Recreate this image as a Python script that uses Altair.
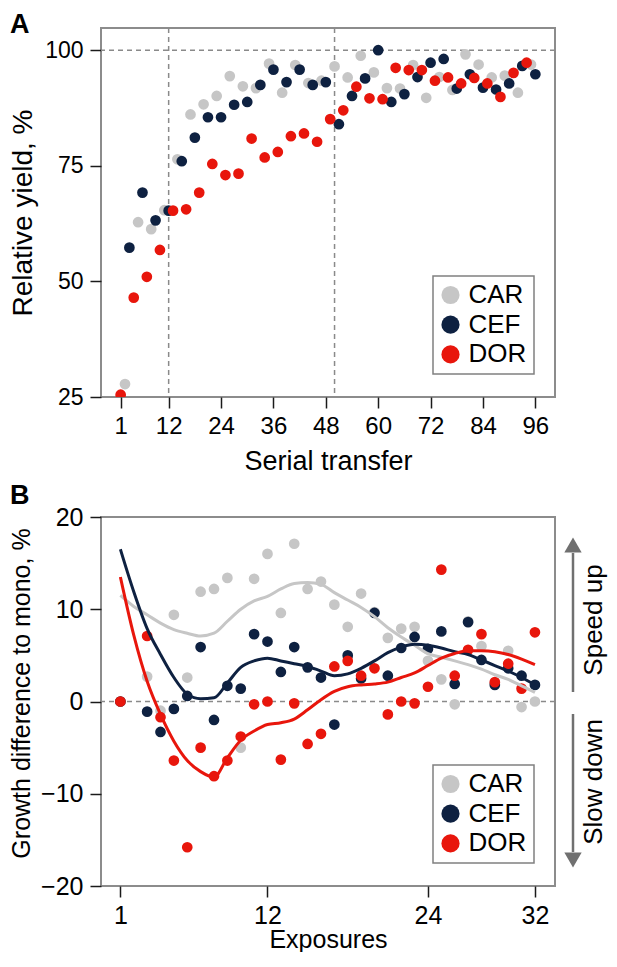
import altair as alt
import pandas as pd

FONT = "Liberation Sans"
series = ["CAR", "CEF", "DOR"]
colors = ["#c6c6c6", "#0e2141", "#e8160c"]

# ---------- Panel A: relative yield per serial transfer ----------
transfer_car = [2, 5, 8, 11, 14, 17, 20, 23, 26, 29, 32, 35, 38, 41, 44, 47,
                50, 53, 56, 59, 62, 65, 68, 71, 74, 77, 80, 83, 86, 89, 92, 95]
transfer_cef = [3, 6, 9, 12, 15, 18, 21, 24, 27, 30, 33, 36, 39, 42, 45, 48,
                51, 54, 57, 60, 63, 66, 69, 72, 75, 78, 81, 84, 87, 90, 93, 96]
transfer_dor = [1, 4, 7, 10, 13, 16, 19, 22, 25, 28, 31, 34, 37, 40, 43, 46,
                49, 52, 55, 58, 61, 64, 67, 70, 73, 76, 79, 82, 85, 88, 91, 94]

yield_car = [27.8, 62.8, 61.3, 65.4, 76.4, 86.1, 88.3, 90.1, 94.4, 92.2, 91.8, 97.1,
             90.8, 96.8, 92.9, 93.4, 96.5, 94.1, 98.8, 95.2, 91.8, 91.7, 96.8, 89.7,
             94.2, 91.4, 99.1, 96.9, 94.1, 94.5, 90.8, 96.9]
yield_cef = [57.3, 69.2, 63.2, 65.3, 76.0, 81.1, 85.5, 85.5, 88.2, 88.8, 92.5, 95.8,
             93.1, 95.8, 92.5, 93.1, 84.0, 90.1, 93.9, 100.0, 88.8, 90.5, 94.2, 97.3,
             98.1, 91.7, 94.8, 91.9, 91.5, 92.8, 96.6, 94.8]
yield_dor = [25.5, 46.5, 51.0, 56.8, 65.3, 65.6, 69.2, 75.4, 73.0, 73.3, 80.9, 76.8,
             78.0, 81.4, 82.0, 80.2, 85.1, 87.0, 92.1, 89.6, 89.4, 96.2, 95.7, 95.7,
             93.4, 94.1, 92.8, 94.0, 92.8, 89.9, 95.1, 97.3]

a_xticks = [1, 12, 24, 36, 48, 60, 72, 84, 96]
a_yticks = [25, 50, 75, 100]
a_vlines = [12, 50]
a_hline = [100]

# ---------- Panel B: growth difference per exposure ----------
exposures = [1, 3, 4, 5, 6, 7, 8, 9, 10, 11, 12, 13, 14, 15, 16, 17, 18, 19, 20,
             21, 22, 23, 24, 25, 26, 27, 28, 29, 30, 31, 32]
growth_car = [0.0, 2.7, -1.0, 9.4, 2.6, 11.9, 12.2, 13.4, -5.0, 13.3, 16.0, 9.6, 17.1,
              12.2, 13.0, 10.5, 8.1, 11.7, 9.7, 6.9, 7.9, 8.1, 4.4, 2.4, -0.3, 8.7,
              6.0, 2.0, 5.5, -0.6, 0.0]
growth_cef = [0.0, -1.1, -3.3, -0.8, 0.6, 5.9, -2.0, 1.7, 1.4, 7.3, 6.5, 3.2, 5.9,
              3.7, 2.6, -2.5, 5.0, 2.5, 9.6, 2.8, 5.8, 7.0, 5.7, 7.6, 1.9, 8.6,
              4.5, 1.8, 3.6, 2.8, 1.8]
growth_dor = [0.0, 7.1, -1.7, -6.4, -15.8, -5.0, -8.1, -6.4, -3.8, -0.3, 0.0, -6.3,
              -0.2, -4.6, -3.5, 3.8, 4.4, 2.8, 3.6, -1.4, 0.0, -0.2, 1.6, 14.3, 2.8,
              5.6, 7.3, 2.1, 4.1, 1.4, 7.5]

fit_x = list(range(1, 33))
fit_car = [11.5, 10.3, 9.4, 8.5, 7.8, 7.4, 7.1, 7.4, 8.7, 10.0, 10.9, 11.4, 12.2,
           12.8, 12.9, 12.7, 11.8, 11.0, 10.2, 9.2, 8.0, 7.0, 6.1, 5.2, 4.8, 4.4,
           4.0, 3.5, 2.9, 2.4, 1.7, 1.0]
fit_cef = [16.5, 11.9, 7.9, 5.1, 2.6, 0.8, 0.3, 0.4, 2.0, 3.7, 4.4, 4.7, 4.4, 4.1,
           3.8, 3.3, 2.8, 3.0, 3.6, 4.4, 5.3, 5.9, 6.2, 6.1, 5.8, 5.4, 5.1, 4.5,
           3.9, 3.3, 2.6, 1.8]
fit_dor = [13.5, 7.2, 2.2, -1.4, -4.3, -6.4, -7.6, -8.2, -6.1, -4.2, -3.2, -2.5,
           -2.3, -1.9, -0.9, 0.2, 1.1, 1.6, 1.8, 1.9, 2.1, 2.6, 3.1, 3.9, 4.7, 5.2,
           5.5, 5.5, 5.4, 5.1, 4.6, 4.0]

b_xticks = [1, 12, 24, 32]
b_yticks = [-20, -10, 0, 10, 20]
b_hline = [0]

# ---------- tables ----------
dfA = pd.concat([
    pd.DataFrame({"series": "CAR", "transfer": transfer_car, "yield": yield_car}),
    pd.DataFrame({"series": "CEF", "transfer": transfer_cef, "yield": yield_cef}),
    pd.DataFrame({"series": "DOR", "transfer": transfer_dor, "yield": yield_dor}),
], ignore_index=True)

dfB = pd.concat([
    pd.DataFrame({"series": "CAR", "exposure": exposures, "growth": growth_car}),
    pd.DataFrame({"series": "CEF", "exposure": exposures, "growth": growth_cef}),
    pd.DataFrame({"series": "DOR", "exposure": exposures, "growth": growth_dor}),
], ignore_index=True)

dfFit = pd.concat([
    pd.DataFrame({"series": "CAR", "exposure": fit_x, "growth": fit_car}),
    pd.DataFrame({"series": "CEF", "exposure": fit_x, "growth": fit_cef}),
    pd.DataFrame({"series": "DOR", "exposure": fit_x, "growth": fit_dor}),
], ignore_index=True)

W, H = 454, 369
DASH = dict(color="#8a8a8a", strokeWidth=1.5, strokeDash=[5, 4])
TICK = dict(tickSize=11, tickWidth=1.5, tickColor="#1a1a1a", domain=False, grid=False,
            labelFont=FONT, titleFont=FONT, labelColor="black", titleColor="black",
            titleFontWeight="normal")
COLOR = alt.Color("series:N", scale=alt.Scale(domain=series, range=colors), legend=None)

# legend drawn inside each panel (box + one row per series)
dfLeg = pd.DataFrame({"series": series, "ly": [267.0, 296.7, 326.4]})


def legend_layers():
    box = alt.Chart(pd.DataFrame({"t": [0]})).mark_rect(
        fill="white", stroke="#808080", strokeWidth=1.5).encode(
        x=alt.value(332), x2=alt.value(433), y=alt.value(248), y2=alt.value(346))
    sym = alt.Chart(dfLeg).mark_circle(size=330, opacity=1).encode(
        x=alt.value(349.5), y=alt.Y("ly:Q", scale=None), color=COLOR)
    lab = alt.Chart(dfLeg).mark_text(font=FONT, fontSize=26, align="left",
                                     baseline="middle", color="black").encode(
        x=alt.value(367.5), y=alt.Y("ly:Q", scale=None), text="series:N")
    return [box, sym, lab]


# Panel A scales
xA = alt.Scale(domain=[-3.5, 100.5], nice=False, zero=False)
yA = alt.Scale(domain=[25, 104.8], nice=False, zero=False)

ptsA = alt.Chart(dfA).mark_circle(size=115, opacity=1, clip=True).encode(
    x=alt.X("transfer:Q", scale=xA,
            axis=alt.Axis(values=a_xticks, title="Serial transfer", labelFontSize=24,
                          labelPadding=6, titleFontSize=27, titlePadding=10, **TICK)),
    y=alt.Y("yield:Q", scale=yA,
            axis=alt.Axis(values=a_yticks, title="Relative yield, %", labelFontSize=23,
                          labelPadding=7, titleFontSize=28, titleX=-64, **TICK)),
    color=COLOR,
)
hA = alt.Chart(pd.DataFrame({"yield": a_hline})).mark_rule(**DASH).encode(
    y=alt.Y("yield:Q", scale=yA))
vA = alt.Chart(pd.DataFrame({"transfer": a_vlines})).mark_rule(**DASH).encode(
    x=alt.X("transfer:Q", scale=xA))
labA = alt.Chart(pd.DataFrame({"t": ["A"]})).mark_text(
    font=FONT, fontSize=27, fontWeight="bold", align="left", baseline="alphabetic",
    color="black").encode(x=alt.value(-91), y=alt.value(4.5), text="t:N")

panelA = alt.layer(hA, vA, ptsA, *legend_layers(), labA).properties(width=W, height=H)

# Panel B scales
xB = alt.Scale(domain=[-0.45, 33.5], nice=False, zero=False)
yB = alt.Scale(domain=[-20, 20], nice=False, zero=False)

ptsB = alt.Chart(dfB).mark_circle(size=115, opacity=1).encode(
    x=alt.X("exposure:Q", scale=xB,
            axis=alt.Axis(values=b_xticks, title="Exposures", labelFontSize=25,
                          labelPadding=6, titleFontSize=25, titleY=41,
                          titleBaseline="top", **TICK)),
    y=alt.Y("growth:Q", scale=yB,
            axis=alt.Axis(values=b_yticks, title="Growth difference to mono, %",
                          labelFontSize=25, labelPadding=7, titleFontSize=25,
                          titleX=-67, titleY=176, **TICK)),
    color=COLOR,
)
linesB = alt.Chart(dfFit).mark_line(strokeWidth=3, interpolate="monotone").encode(
    x=alt.X("exposure:Q", scale=xB),
    y=alt.Y("growth:Q", scale=yB),
    color=COLOR,
    detail="series:N",
)
hB = alt.Chart(pd.DataFrame({"growth": b_hline})).mark_rule(**DASH).encode(
    y=alt.Y("growth:Q", scale=yB))

one = pd.DataFrame({"t": [0]})
ARROW = "#707070"
AX = 472
upShaft = alt.Chart(one).mark_rule(color=ARROW, strokeWidth=2.5).encode(
    x=alt.value(AX), y=alt.value(175), y2=alt.value(36))
upHead = alt.Chart(one).mark_point(shape="triangle-up", filled=True, size=300,
                                   color=ARROW, opacity=1).encode(
    x=alt.value(AX), y=alt.value(28))
dnShaft = alt.Chart(one).mark_rule(color=ARROW, strokeWidth=2.5).encode(
    x=alt.value(AX), y=alt.value(197), y2=alt.value(335))
dnHead = alt.Chart(one).mark_point(shape="triangle-down", filled=True, size=300,
                                   color=ARROW, opacity=1).encode(
    x=alt.value(AX), y=alt.value(343))
txtB = alt.Chart(pd.DataFrame({"t": ["Speed up", "Slow down"], "yy": [103, 265]})).mark_text(
    font=FONT, fontSize=26, angle=270, align="center", baseline="middle", color="black"
).encode(x=alt.value(493), y=alt.Y("yy:Q", scale=None), text="t:N")
labB = alt.Chart(pd.DataFrame({"t": ["B"]})).mark_text(
    font=FONT, fontSize=27, fontWeight="bold", align="left", baseline="alphabetic",
    color="black").encode(x=alt.value(-91), y=alt.value(-13), text="t:N")

panelB = alt.layer(hB, ptsB, linesB, *legend_layers(), upShaft, upHead, dnShaft, dnHead,
                   txtB, labB).properties(width=W, height=H)

chart = alt.vconcat(panelA, panelB, spacing=120, bounds="flush").properties(
    autosize=alt.AutoSizeParams(type="none"),
    padding={"left": 93, "top": 20, "right": 54, "bottom": 924},
).configure_view(stroke="#8c8c8c", strokeWidth=2)

chart.save("out.html", embed_options={"renderer": "svg", "actions": False})
